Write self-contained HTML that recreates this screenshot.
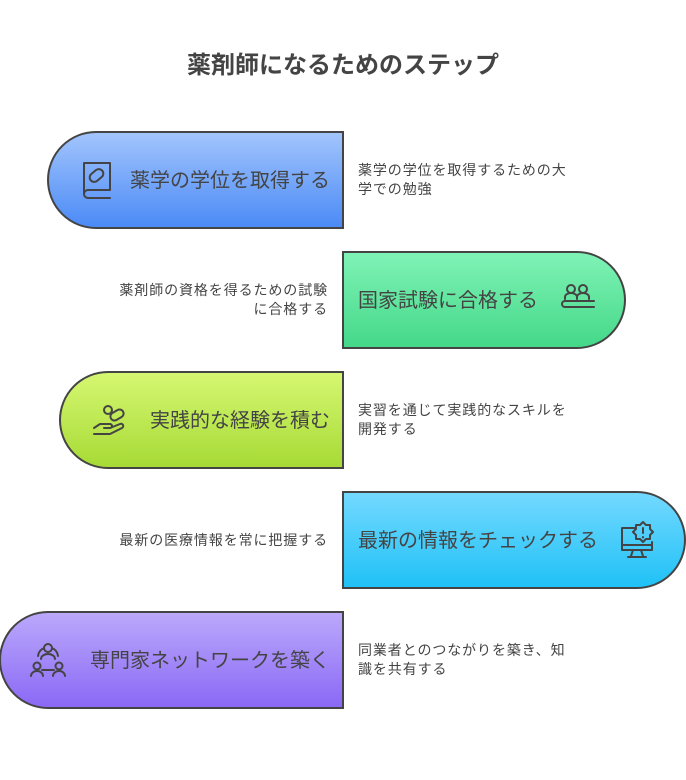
<!DOCTYPE html>
<html><head><meta charset="utf-8"><style>
body{margin:0;background:#fff}
svg{display:block}
text{font-family:"Liberation Sans","Noto Sans CJK JP",sans-serif;fill:#444}
</style></head><body>
<svg width="686" height="780" viewBox="0 0 686 780" xmlns="http://www.w3.org/2000/svg">
<defs>
<linearGradient id="gb" x1="0" y1="0" x2="0" y2="1"><stop offset="0" stop-color="#a3c5fc"/><stop offset="1" stop-color="#4a8af6"/></linearGradient>
<linearGradient id="gg" x1="0" y1="0" x2="0" y2="1"><stop offset="0" stop-color="#80f3b6"/><stop offset="1" stop-color="#44d889"/></linearGradient>
<linearGradient id="gl" x1="0" y1="0" x2="0" y2="1"><stop offset="0" stop-color="#d6f772"/><stop offset="1" stop-color="#a6da35"/></linearGradient>
<linearGradient id="gc" x1="0" y1="0" x2="0" y2="1"><stop offset="0" stop-color="#74d9ff"/><stop offset="1" stop-color="#1fc1f6"/></linearGradient>
<linearGradient id="gp" x1="0" y1="0" x2="0" y2="1"><stop offset="0" stop-color="#bba9fb"/><stop offset="1" stop-color="#8a68f5"/></linearGradient>
</defs>
<text x="343" y="73" text-anchor="middle" font-size="24" font-weight="bold" style="fill:#444">薬剤師になるためのステップ</text>

<path d="M343,132 H96 A48,48 0 0 0 96,228 H343 Z" fill="url(#gb)" stroke="#444" stroke-width="2"/>
<path d="M343,252 H577 A48,48 0 0 1 577,348 H343 Z" fill="url(#gg)" stroke="#444" stroke-width="2"/>
<path d="M343,372 H108 A48,48 0 0 0 108,468 H343 Z" fill="url(#gl)" stroke="#444" stroke-width="2"/>
<path d="M343,492 H637 A48,48 0 0 1 637,588 H343 Z" fill="url(#gc)" stroke="#444" stroke-width="2"/>
<path d="M343,612 H48 A48,48 0 0 0 48,708 H343 Z" fill="url(#gp)" stroke="#444" stroke-width="2"/>

<g font-size="20">
<text x="130" y="187">薬学の学位を取得する</text>
<text x="358" y="307">国家試験に合格する</text>
<text x="150" y="427">実践的な経験を積む</text>
<text x="358" y="547">最新の情報をチェックする</text>
<text x="90" y="667">専門家ネットワークを築く</text>
</g>
<g font-size="14" letter-spacing="0.9">
<text x="358" y="175">薬学の学位を取得するための大</text>
<text x="358" y="194">学での勉強</text>
<text x="328" y="295" text-anchor="end">薬剤師の資格を得るための試験</text>
<text x="328" y="314" text-anchor="end">に合格する</text>
<text x="358" y="415">実習を通じて実践的なスキルを</text>
<text x="358" y="434">開発する</text>
<text x="328" y="545" text-anchor="end">最新の医療情報を常に把握する</text>
<text x="358" y="655">同業者とのつながりを築き、知</text>
<text x="358" y="674">識を共有する</text>
</g>

<g fill="none" stroke="#444" stroke-width="2" stroke-linecap="round" stroke-linejoin="round">
<path d="M84,163 H110 V190 H88 A4,4 0 0 0 88,198 H110 M84,163 V194 A4,4 0 0 0 88,198"/>
<rect x="89" y="171" width="15" height="9" rx="4.5" transform="rotate(-40 96.5 175.5)"/>
<circle cx="571" cy="289" r="4"/><circle cx="583" cy="289" r="4"/>
<path d="M565,299 v-2 a6,4 0 0 1 12,0 v2 M577,299 v-2 a6,4 0 0 1 12,0 v2"/>
<path d="M594,301 H565 a3,3 0 0 0 0,6 H594"/>
<circle cx="108" cy="410" r="4"/>
<rect x="110" y="411" width="14" height="8" rx="4" transform="rotate(-30 117 415)"/>
<path d="M94,428 l6,-4 h10 a2,2 0 0 1 0,4 h-6 M110,428 l10,-4 a2,2 0 0 1 2,4 l-12,6 h-16"/>
<path d="M635,528 H622 V550 H652 V542"/>
<path d="M622,545 H652 M633,550 l-2,6 M641,550 l2,6 M628,557 H646"/>
<path d="M643,522 l3,3 h4 v4 l3,3 l-3,3 v4 h-4 l-3,3 l-3,-3 h-4 v-4 l-3,-3 l3,-3 v-4 h4 z"/>
<path d="M643,528 v5 M643,537 v0.5"/>
<circle cx="48" cy="648" r="4"/>
<path d="M41,659 a7,5 0 0 1 14,0 M38,656 a10,10 0 0 1 6,-8 M58,656 a10,10 0 0 0 -6,-8"/>
<circle cx="37" cy="666" r="3.5"/><circle cx="59" cy="666" r="3.5"/>
<path d="M31,676 a6,5 0 0 1 12,0 M53,676 a6,5 0 0 1 12,0 M42,670 H54"/>
</g>
</svg>
</body></html>
